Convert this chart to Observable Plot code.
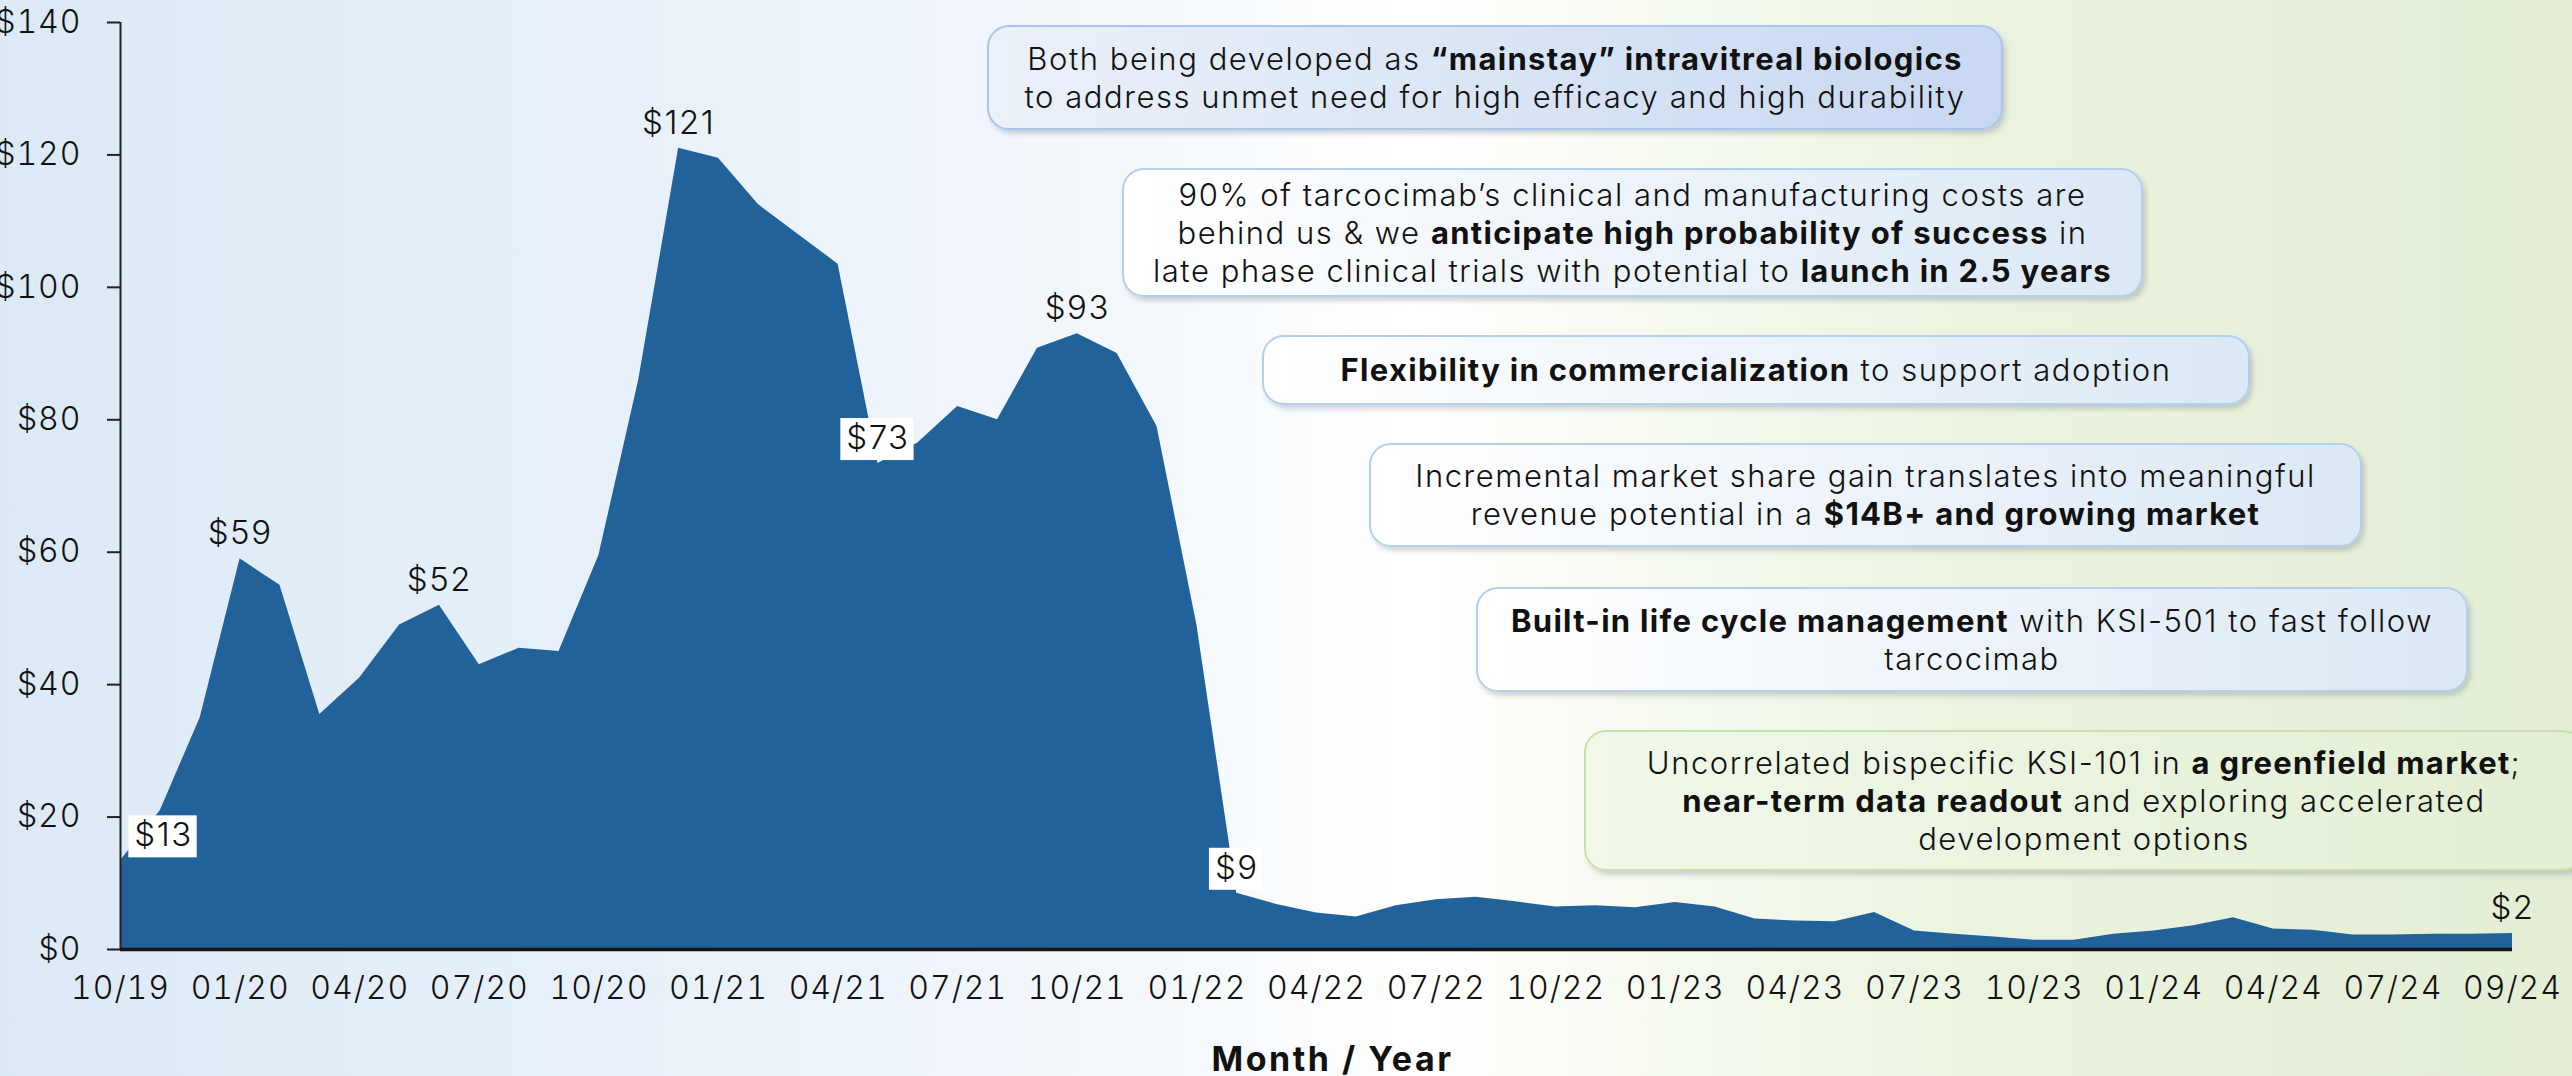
<!DOCTYPE html>
<html>
<head>
<meta charset="utf-8">
<script src="https://cdn.jsdelivr.net/npm/d3@7"></script>
<script src="https://cdn.jsdelivr.net/npm/@observablehq/plot@0.6"></script>
<style>
html, body { margin: 0; padding: 0; overflow: hidden; }
body {
  width: 2572px; height: 1076px;
  background: linear-gradient(to right, #dce9f6 0%, #e8f1f9 25%, #f4f8fc 45%, #ffffff 55%, #f6faf0 64%, #eaf3df 78%, #e3eed5 100%);
  font-family: Inter, sans-serif;
}
#wrap { position: relative; width: 2572px; height: 1076px; }
#chart svg { display: block; }
#chart svg g[aria-label="x-axis tick label"] text,
#chart svg g[aria-label="y-axis tick label"] text { letter-spacing: 1px; }
#chart svg g.vlabel text { letter-spacing: 1.5px; }
#chart svg g.xtitle text { letter-spacing: 2.5px; }
.note {
  position: absolute; box-sizing: border-box; border-radius: 22px;
  border: 2px solid #b3cfee;
  box-shadow: 3px 4px 5px rgba(60, 70, 90, 0.22);
  display: flex; flex-direction: column; justify-content: center; align-items: center;
  text-align: center; white-space: nowrap;
  font-family: Inter, sans-serif;
  font-size: 31px; line-height: 38px; font-weight: 300; color: #111; letter-spacing: 1.55px;
  background: linear-gradient(to right, #ffffff, #dbe8f5);
}
.note b { font-weight: 700; letter-spacing: 1.3px; }
.n1 { left: 987px; top: 25px; width: 1016px; height: 105px; background: linear-gradient(to right, #ebf1f9, #c8d8f2); border-color: #a8c6ea; }
.n2 { left: 1122px; top: 168px; width: 1021px; height: 129px; }
.n3 { left: 1262px; top: 335px; width: 988px; height: 70px; }
.n4 { left: 1369px; top: 443px; width: 993px; height: 104px; }
.n5 { left: 1476px; top: 587px; width: 992px; height: 105px; }
.n6 { left: 1584px; top: 730px; width: 1000px; height: 141px; background: linear-gradient(to right, #f1f8ea, #e2efd3); border-color: #c6e2a8; }
</style>
</head>
<body>
<div id="wrap">
  <div id="chart"></div>
  <div class="note n1"><div>Both being developed as <b>“mainstay” intravitreal biologics</b></div><div>to address unmet need for high efficacy and high durability</div></div>
  <div class="note n2"><div>90% of tarcocimab’s clinical and manufacturing costs are</div><div>behind us &amp; we <b>anticipate high probability of success</b> in</div><div>late phase clinical trials with potential to <b>launch in 2.5 years</b></div></div>
  <div class="note n3"><div><b>Flexibility in commercialization</b> to support adoption</div></div>
  <div class="note n4"><div>Incremental market share gain translates into meaningful</div><div>revenue potential in a <b>$14B+ and growing market</b></div></div>
  <div class="note n5"><div><b>Built-in life cycle management</b> with KSI-501 to fast follow</div><div>tarcocimab</div></div>
  <div class="note n6"><div>Uncorrelated bispecific KSI-101 in <b>a greenfield market</b>;</div><div><b>near-term data readout</b> and exploring accelerated</div><div>development options</div></div>
</div>
<script>
// Monthly values ($), first point 10/19
const values = [13.4, 21, 35, 59, 55, 35.5, 41, 49, 52, 43, 45.5, 45, 59.5, 86, 121, 119.5, 112.5, 108, 103.5, 73.4,
  76.5, 82, 80, 90.8, 93, 90, 79, 49, 8.5, 6.8, 5.5, 4.9, 6.6, 7.5, 7.9, 7.2, 6.4, 6.6, 6.3, 7.1,
  6.4, 4.6, 4.3, 4.2, 5.6, 2.8, 2.3, 1.9, 1.4, 1.4, 2.3, 2.8, 3.6, 4.8, 3.1, 2.9, 2.2, 2.2, 2.3, 2.3, 2.4];
const tickIndex = [0, 3, 6, 9, 12, 15, 18, 21, 24, 27, 30, 33, 36, 39, 42, 45, 48, 51, 54, 57, 60];
const tickLabels = ["10/19", "01/20", "04/20", "07/20", "10/20", "01/21", "04/21", "07/21", "10/21", "01/22", "04/22",
  "07/22", "10/22", "01/23", "04/23", "07/23", "10/23", "01/24", "04/24", "07/24", "09/24"];
const yTicks = [0, 20, 40, 60, 80, 100, 120, 140];
const plainLabelIndex = [3, 8, 14, 24, 60];
const boxedLabelIndex = [19, 28];
const shiftedLabelIndex = [0];
const xTitle = "Month / Year";

const data = values.map((v, i) => ({i, v}));
const pick = idx => data.filter(d => idx.includes(d.i));
const money = d => "$" + Math.round(d.v);
const labelFont = {fontSize: 33, fontWeight: 300, fill: "#111"};

const plot = Plot.plot({
  width: 2572,
  height: 1076,
  marginLeft: 120,
  marginRight: 60,
  marginTop: 22,
  marginBottom: 127,
  style: {background: "transparent", fontFamily: "Inter, sans-serif", fontSize: "32px", color: "#111", overflow: "visible"},
  x: {domain: [0, 60]},
  y: {domain: [0, 140]},
  marks: [
    Plot.areaY(data, {x: "i", y: "v", fill: "#22629a"}),
    Plot.ruleX([0], {stroke: "#222", strokeWidth: 2}),
    Plot.ruleY([0], {stroke: "#161616", strokeWidth: 3.5}),
    Plot.axisY({ticks: yTicks, tickFormat: d => "$" + d, tickSize: 13, tickPadding: 26, stroke: "#222", strokeWidth: 2, label: null, fontSize: 32, fontWeight: 300, fill: "#111"}),
    Plot.axisX({ticks: tickIndex, tickFormat: d => tickLabels[tickIndex.indexOf(d)], tickSize: 0, tickPadding: 27, label: null, fontSize: 32, fontWeight: 300, fill: "#111"}),
    Plot.text([xTitle], {frameAnchor: "bottom", dx: 16, dy: 121, fontSize: 34, fontWeight: 700, fill: "#111", className: "xtitle"}),
    Plot.text(pick(plainLabelIndex), {x: "i", y: "v", text: money, dy: -25, className: "vlabel", ...labelFont}),
    Plot.text(pick(boxedLabelIndex), {x: "i", y: "v", text: money, dy: -25, className: "vlabel boxed", ...labelFont}),
    Plot.text(pick(shiftedLabelIndex), {x: "i", y: "v", text: money, dx: 43, dy: -25, className: "vlabel boxed", ...labelFont})
  ]
});
document.getElementById("chart").appendChild(plot);

// white boxes behind the boxed value labels
const ns = "http://www.w3.org/2000/svg";
plot.querySelectorAll("g.boxed text").forEach(t => {
  const b = t.getBBox();
  const r = document.createElementNS(ns, "rect");
  r.setAttribute("x", b.x - 6);
  r.setAttribute("y", b.y + 1);
  r.setAttribute("width", b.width + 10);
  r.setAttribute("height", b.height + 2);
  r.setAttribute("fill", "white");
  if (t.getAttribute("transform")) r.setAttribute("transform", t.getAttribute("transform"));
  t.parentNode.insertBefore(r, t);
});
</script>
</body>
</html>
